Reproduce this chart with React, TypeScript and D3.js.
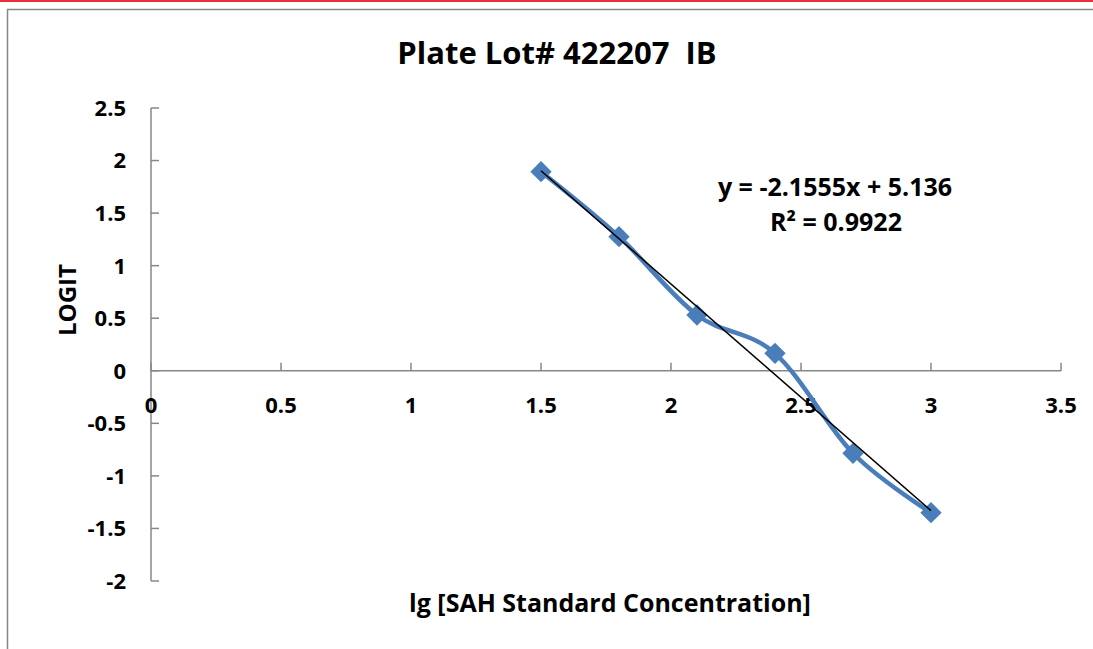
import React from "react";
import * as d3 from "d3";

// lg of standard concentration vs LOGIT
const lgConc = [1.5, 1.8, 2.1, 2.4, 2.7, 3.0];
const logit = [1.894, 1.276, 0.531, 0.166, -0.785, -1.35];

const xTicks = [0, 0.5, 1, 1.5, 2, 2.5, 3, 3.5];
const yTicks = [2.5, 2, 1.5, 1, 0.5, 0, -0.5, -1, -1.5, -2];

const slope = -2.1555;
const intercept = 5.136;
const r2 = "0.9922";

const W = 1093;
const H = 649;
const FONT = "'Open Sans', Lato, sans-serif";

export default function App() {
  const x = d3.scaleLinear().domain([0, 3.5]).range([151, 1061]);
  const y = d3.scaleLinear().domain([-2, 2.5]).range([581, 108]);

  const pts: [number, number][] = lgConc.map((v, i) => [v, logit[i]]);

  const smooth = d3
    .line<[number, number]>()
    .x((d) => x(d[0]))
    .y((d) => y(d[1]))
    .curve(d3.curveCardinal.tension(0));

  const x0 = lgConc[0];
  const x1 = lgConc[lgConc.length - 1];
  const trend: [number, number][] = [
    [x0, slope * x0 + intercept],
    [x1, slope * x1 + intercept],
  ];
  const straight = d3
    .line<[number, number]>()
    .x((d) => x(d[0]))
    .y((d) => y(d[1]));

  const diamond = d3.symbol(d3.symbolDiamond2, 290)();

  const axisCol = "#878787";

  return (
    <div style={{ position: "fixed", left: 0, top: 0 }}>
      <svg width={W} height={H} style={{ display: "block", background: "#fff" }}>
        <line x1={0} x2={W} y1={1} y2={1} stroke="#e8303a" strokeWidth={2} />
        <rect x={7.5} y={9.5} width={W + 20} height={H + 20} fill="none" stroke={axisCol} strokeWidth={1.5} />

        <text
          x={557}
          y={64}
          textAnchor="middle"
          fontFamily={FONT}
          fontWeight={700}
          fontSize={31}
          style={{ whiteSpace: "pre" }}
        >
          {"Plate Lot# 422207  IB"}
        </text>

        {/* y axis */}
        <g fontFamily={FONT} fontWeight={700} fontSize={22}>
          <line x1={x(0)} x2={x(0)} y1={y(2.5)} y2={y(-2)} stroke={axisCol} strokeWidth={1.5} />
          {yTicks.map((t) => (
            <g key={"y" + t}>
              <line x1={x(0)} x2={x(0) + 8} y1={y(t)} y2={y(t)} stroke={axisCol} strokeWidth={1.5} />
              <text x={126} y={y(t)} dy="0.36em" textAnchor="end">
                {t}
              </text>
            </g>
          ))}
          {/* x axis */}
          <line x1={x(0)} x2={x(3.5)} y1={y(0)} y2={y(0)} stroke={axisCol} strokeWidth={1.5} />
          {xTicks.map((t) => (
            <g key={"x" + t}>
              <line x1={x(t)} x2={x(t)} y1={y(0)} y2={y(0) - 8} stroke={axisCol} strokeWidth={1.5} />
              <text x={x(t)} y={413} textAnchor="middle">
                {t}
              </text>
            </g>
          ))}
          <text x={610} y={612} textAnchor="middle" fontSize={25}>
            lg [SAH Standard Concentration]
          </text>
          <text transform="translate(76,300) rotate(-90)" textAnchor="middle" fontSize={24}>
            LOGIT
          </text>
        </g>

        {/* data */}
        <path d={smooth(pts) ?? ""} fill="none" stroke="#4a7ebb" strokeWidth={4.5} />
        {pts.map((d, i) => (
          <path key={i} d={diamond ?? ""} transform={`translate(${x(d[0])},${y(d[1])})`} fill="#4a7ebb" />
        ))}
        <path d={straight(trend) ?? ""} fill="none" stroke="#000" strokeWidth={1.5} />

        <g fontFamily={FONT} fontWeight={700} fontSize={25} textAnchor="middle">
          <text x={835} y={196}>
            {`y = ${slope}x + ${intercept}`}
          </text>
          <text x={836} y={231}>
            R² = {r2}
          </text>
        </g>
      </svg>
    </div>
  );
}
